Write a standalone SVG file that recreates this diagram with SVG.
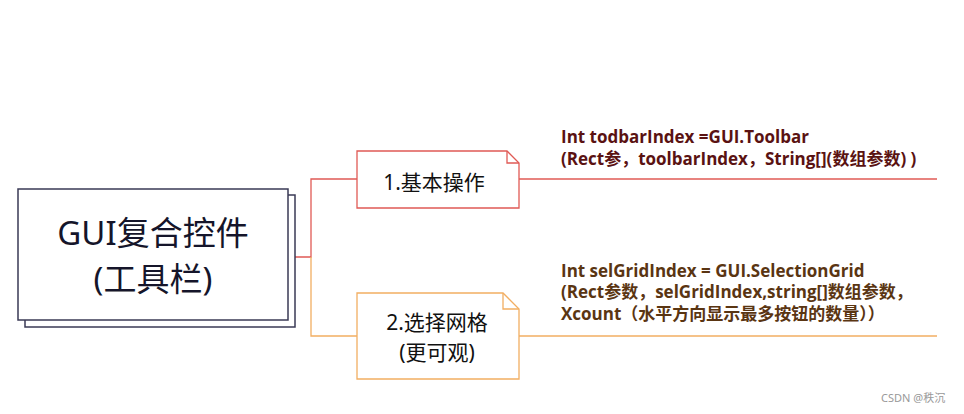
<svg xmlns="http://www.w3.org/2000/svg" width="964" height="414" viewBox="0 0 964 414">
<style>
.main{fill:#fff;stroke:#3a3a55;stroke-width:1.5}
.mt{font-family:"Noto Sans","Noto Sans CJK SC",sans-serif;font-size:33px;fill:#15152a;text-anchor:middle}
.nt{font-family:"Noto Sans","Noto Sans CJK SC",sans-serif;font-size:21px;fill:#111;text-anchor:middle}
.red{stroke:#e05a55;fill:none;stroke-width:1.3}
.org{stroke:#f2ae62;fill:none;stroke-width:1.3}
.redbox{fill:#fff;stroke:#e05a55;stroke-width:1.3}
.orgbox{fill:#fff;stroke:#f2ae62;stroke-width:1.3}
.c1{font-family:"Open Sans","Noto Sans CJK SC",sans-serif;font-weight:bold;font-size:17px;fill:#5a1212}
.c2{font-family:"Open Sans","Noto Sans CJK SC",sans-serif;font-weight:bold;font-size:17px;fill:#5a3512}
.wm{font-family:"Noto Sans","Noto Sans CJK SC",sans-serif;font-size:11px;fill:#999}
</style>
<rect width="964" height="414" fill="#fff"/>
<g id="connectors">
<path class="red" d="M295 257H311V179H357"/>
<path class="org" d="M311 257V336H357"/>
<path class="red" d="M519 179H937"/>
<path class="org" d="M519 336H937"/>
</g>
<g id="main">
<rect class="main" x="25" y="195" width="270" height="132"/>
<rect class="main" x="18" y="189" width="270" height="131"/>
<text class="mt" x="153" y="245">GUI复合控件</text>
<text class="mt" x="153" y="291">(工具栏)</text>
</g>
<g id="node1">
<path class="redbox" d="M357 151H507L519 163V208H357Z"/>
<path class="red" d="M507 151V163H519"/>
<text class="nt" x="434" y="190">1.基本操作</text>
</g>
<g id="node2">
<path class="orgbox" d="M357 293H503L519 309V379H357Z"/>
<path class="org" d="M503 293V309H519"/>
<text class="nt" x="437" y="330">2.选择网格</text>
<text class="nt" x="437" y="360">(更可观)</text>
</g>
<g id="label1">
<text class="c1" x="561" y="143">Int todbarIndex =GUI.Toolbar</text>
<text class="c1" x="561" y="165">(Rect参，toolbarIndex，String[](数组参数) )</text>
</g>
<g id="label2">
<text class="c2" x="561" y="277">Int selGridIndex = GUI.SelectionGrid</text>
<text class="c2" x="561" y="298">(Rect参数，selGridIndex,string[]数组参数，</text>
<text class="c2" x="561" y="320">Xcount（水平方向显示最多按钮的数量））</text>
</g>
<text class="wm" x="881" y="402">CSDN @秩沉</text>
</svg>
